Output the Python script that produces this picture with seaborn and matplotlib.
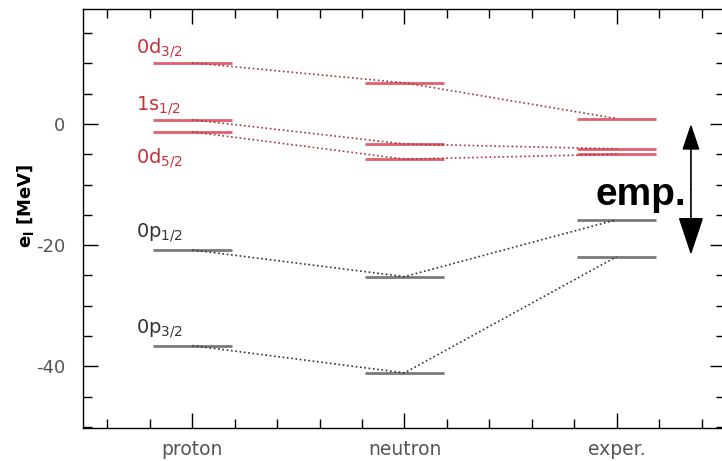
import matplotlib
matplotlib.use("Agg")
import matplotlib.pyplot as plt
import seaborn as sns
import numpy as np
import pandas as pd
from matplotlib.ticker import MultipleLocator

# ---- data ----
groups = ["proton", "neutron", "exper."]
group_x = [1, 2, 3]
states = ["0d3/2", "1s1/2", "0d5/2", "0p1/2", "0p3/2"]
state_labels = [r"0d$_{\mathregular{3/2}}$", r"1s$_{\mathregular{1/2}}$", r"0d$_{\mathregular{5/2}}$",
                r"0p$_{\mathregular{1/2}}$", r"0p$_{\mathregular{3/2}}$"]
proton = [10.1, 0.7, -1.3, -20.8, -36.6]
neutron = [6.8, -3.3, -5.8, -25.2, -41.1]
exper = [0.9, -4.1, -5.0, -15.8, -21.9]
label_y = [11.7, 2.3, -6.4, -18.7, -34.5]
is_sd = [True, True, True, False, False]

sns.set_style("ticks")
plt.rcParams["font.family"] = ["DejaVu Sans"]
plt.rcParams["axes.unicode_minus"] = False

fig = plt.figure(figsize=(7.22, 4.61), dpi=100)
ax = fig.add_axes([0.115, 0.0716, 0.889, 0.909])

RED_LEVEL = "#e0606c"
RED_DOT = "#a8343f"
RED_TEXT = "#cc2f3c"
GRAY_LEVEL = "#7a7a7a"
GRAY_DOT = "#333333"
GRAY_TEXT = "#333333"

rows = []
for i, s in enumerate(states):
    for g, xv, vals in zip(groups, group_x, [proton, neutron, exper]):
        rows.append({"state": s, "group": g, "x": xv, "e": vals[i]})
df = pd.DataFrame(rows)

hw = 0.185
for i, s in enumerate(states):
    sub = df[df.state == s]
    lc = RED_LEVEL if is_sd[i] else GRAY_LEVEL
    dc = RED_DOT if is_sd[i] else GRAY_DOT
    ax.hlines(sub["e"], sub["x"] - hw, sub["x"] + hw, colors=lc, lw=2.0, zorder=2)
    sns.lineplot(data=sub, x="x", y="e", color=dc, lw=1.2,
                 linestyle=(0, (1, 1.6)), ax=ax, zorder=3, legend=False)
    ax.text(0.735, label_y[i], state_labels[i], color=RED_TEXT if is_sd[i] else GRAY_TEXT,
            fontsize=14, ha="left", va="baseline")

# annotation arrow + text
ax.annotate("", xy=(3.35, 0.0), xytext=(3.35, -10.8),
            arrowprops=dict(arrowstyle="-|>,head_length=0.8,head_width=0.27",
                            mutation_scale=20, color="black", lw=1.2, shrinkA=0, shrinkB=0))
ax.annotate("", xy=(3.35, -21.6), xytext=(3.35, -10.8),
            arrowprops=dict(arrowstyle="-|>,head_length=1.2,head_width=0.4",
                            mutation_scale=20, color="black", lw=1.2, shrinkA=0, shrinkB=0))
ax.text(2.898, -13.4, "emp.", fontsize=28, fontweight="bold",
        family=["Liberation Sans", "DejaVu Sans"], ha="left", va="baseline", color="black")

ax.set_xlim(0.485, 3.51)
ax.set_ylim(-50.2, 19)
ax.set_xticks(group_x)
ax.set_xticklabels(groups)
ax.xaxis.set_minor_locator(MultipleLocator(0.2))
ax.yaxis.set_major_locator(MultipleLocator(20))
ax.yaxis.set_minor_locator(MultipleLocator(5))
ax.set_xlabel("")
ax.set_ylabel(r"e$_\mathbf{l}$ [MeV]", fontsize=13, fontweight="bold", color="black")
ax.yaxis.set_label_coords(-0.073, 0.53)

ax.tick_params(which="both", direction="in", top=True, right=True, color="black", width=1.0)
ax.tick_params(which="major", length=11)
ax.tick_params(which="minor", length=6.5)
ax.tick_params(axis="y", which="major", labelsize=13, labelcolor="#555555", pad=13)
ax.tick_params(axis="x", which="major", labelsize=13.5, labelcolor="#555555", pad=9)
for sp in ax.spines.values():
    sp.set_visible(True)
    sp.set_color("black")
    sp.set_linewidth(1.0)

fig.savefig("out.png", dpi=100)
